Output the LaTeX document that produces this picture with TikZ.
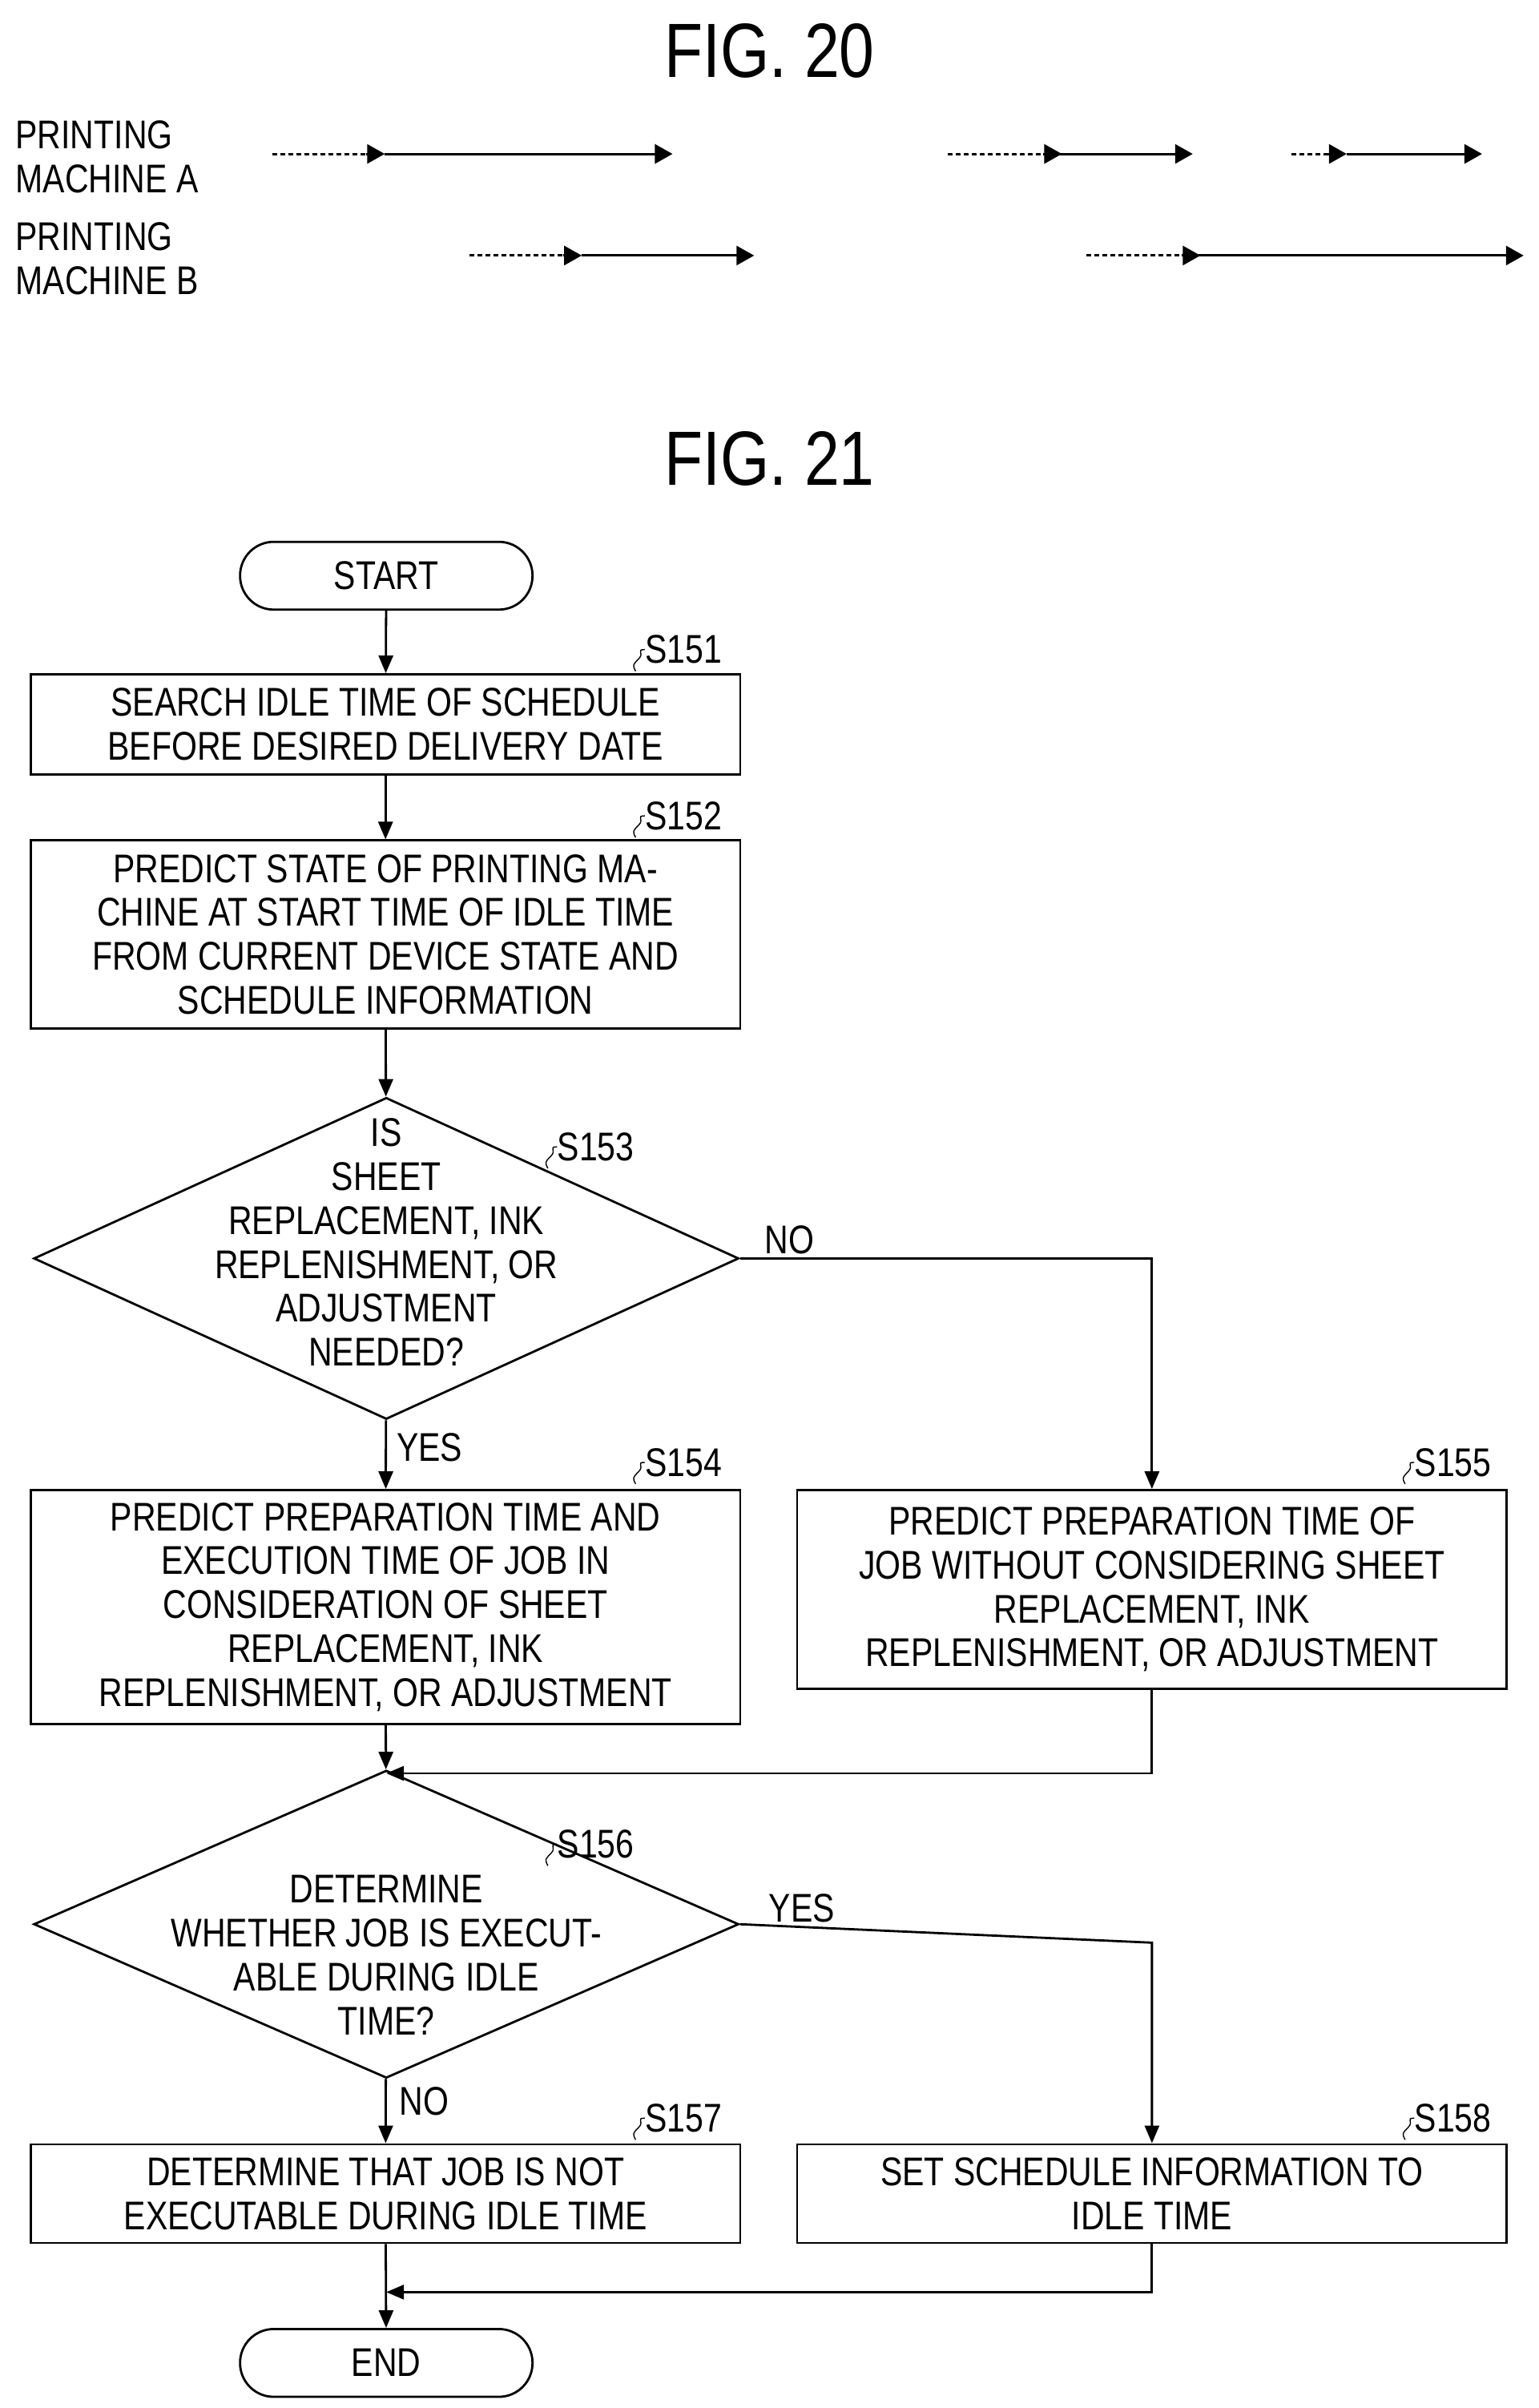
\documentclass[tikz,border=0pt]{standalone}
\usepackage{fontspec}
\setmainfont{Liberation Sans}[FakeStretch=0.82]
\usetikzlibrary{arrows.meta,shapes.geometric,calc}
\begin{document}
\begin{tikzpicture}[x=0.9605pt,y=-0.9605pt,
  every node/.style={font=\fontsize{25pt}{27.4pt}\selectfont},
  ln/.style={line width=1.4pt},
  arr/.style={ln,-{Triangle[length=11pt,width=9pt]}},
  box/.style={draw,ln,rectangle,align=center,inner sep=0pt,minimum width=442.8pt},
  term/.style={draw,ln,rounded corners=21pt,minimum width=182.5pt,minimum height=42.3pt,inner sep=0pt},
  dia/.style={draw,ln,diamond,inner sep=0pt,minimum width=440pt},
  lab/.style={anchor=west,inner sep=0pt},
  tl/.style={font=\fontsize{48pt}{52pt}\selectfont},
  sq/.style={line width=0.7pt},
  sol/.style={line width=1.4pt,-{Triangle[length=11pt,width=12pt]}},
  dsh/.style={line width=1.4pt,dash pattern=on 3pt off 2pt}]
\useasboundingbox (0,0) rectangle (1000,1564.3);
% FIG 20
\node[tl] (f20) at (500,33) {FIG. 20};
\node[align=left,anchor=west,inner sep=0pt] (ma) at (10,102) {PRINTING\\MACHINE A};
\node[align=left,anchor=west,inner sep=0pt] (mb) at (10,168) {PRINTING\\MACHINE B};
\coordinate (a1) at (177,100); \coordinate (a2) at (250,100); \coordinate (a3) at (437,100);
\coordinate (a4) at (616,100); \coordinate (a5) at (690,100); \coordinate (a6) at (775,100);
\coordinate (a7) at (839,100); \coordinate (a8) at (875,100); \coordinate (a9) at (963,100);
\coordinate (b1) at (305,166); \coordinate (b2) at (378,166); \coordinate (b3) at (490,166);
\coordinate (b4) at (706,166); \coordinate (b5) at (780,166); \coordinate (b6) at (990,166);
\foreach \p/\q/\r in {a1/a2/a3,a4/a5/a6,a7/a8/a9,b1/b2/b3,b4/b5/b6}{
  \draw[dsh] (\p) -- (\q);
  \draw[sol] ($(\q)+(-12,0)$) -- (\q);
  \draw[sol] (\q) -- (\r);
}
% FIG 21
\node[tl] (f21) at (500,298) {FIG. 21};
\node[term] (start) at (251,374) {START};
\node[box,minimum height=62.4pt] (s151) at (250.5,470.5) {SEARCH IDLE TIME OF SCHEDULE\\BEFORE DESIRED DELIVERY DATE};
\node[box,minimum height=117.2pt] (s152) at (250.5,607) {PREDICT STATE OF PRINTING MA-\\CHINE AT START TIME OF IDLE TIME\\FROM CURRENT DEVICE STATE AND\\SCHEDULE INFORMATION};
\node[dia,minimum height=200.7pt] (s153) at (251,817.5) {};
\node[align=center,inner sep=0pt] (t153) at (251,807) {IS\\SHEET\\REPLACEMENT, INK\\REPLENISHMENT, OR\\ADJUSTMENT\\NEEDED?};
\node[box,minimum height=146pt] (s154) at (250.5,1044) {PREDICT PREPARATION TIME AND\\EXECUTION TIME OF JOB IN\\CONSIDERATION OF SHEET\\REPLACEMENT, INK\\REPLENISHMENT, OR ADJUSTMENT};
\node[box,minimum height=123.9pt] (s155) at (748.5,1032.5) {PREDICT PREPARATION TIME OF\\JOB WITHOUT CONSIDERING SHEET\\REPLACEMENT, INK\\REPLENISHMENT, OR ADJUSTMENT};
\node[dia,minimum height=192pt] (s156) at (251,1250) {};
\node[align=center,inner sep=0pt] (t156) at (251,1270) {DETERMINE\\WHETHER JOB IS EXECUT-\\ABLE DURING IDLE\\TIME?};
\node[box,minimum height=61.5pt] (s157) at (250.5,1425) {DETERMINE THAT JOB IS NOT\\EXECUTABLE DURING IDLE TIME};
\node[box,minimum height=61.5pt] (s158) at (748.5,1425) {SET SCHEDULE INFORMATION TO\\IDLE TIME};
\node[term] (end) at (251,1535) {END};
% step labels
\foreach \n/\x/\y in {151/419/422,152/419/530,153/362/745,154/419/950,155/919/950,156/362/1198,157/419/1376,158/919/1376}{
  \node[lab] (l\n) at (\x,\y) {S\n};
  \draw[sq] (l\n.west) .. controls +(-6,0) and +(4,-4) .. +(-4,6) .. controls +(-4,4) and +(-2,-4) .. +(-6,14);
}
% connectors
\draw[arr] (start) -- (s151);
\draw[arr] (s151) -- (s152);
\draw[arr] (s152) -- (s153);
\draw[arr] (s153) -- (s154) node[pos=0.4,right=6pt,inner sep=0pt] (y1) {YES};
\coordinate (c1) at (748.5,817.5);
\draw[arr] (s153.east) -- (c1) node[pos=0.12,above=2pt,inner sep=0pt] (n1) {NO} -- (s155);
\coordinate (m1) at (748.5,1152); \coordinate (m1l) at (251,1152);
\draw[arr] (s155) -- (m1) -- (m1l);
\draw[arr] (s154) -- (s156);
\coordinate (c2) at (748.5,1262);
\draw[arr] (s156.east) -- (c2) node[pos=0.15,above=2pt,inner sep=0pt] (y2) {YES} -- (s158);
\draw[arr] (s156) -- (s157) node[pos=0.35,right=8pt,inner sep=0pt] (n2) {NO};
\coordinate (m2) at (748.5,1489); \coordinate (m2l) at (251,1489);
\draw[arr] (s158) -- (m2) -- (m2l);
\draw[arr] (s157) -- (end);
\end{tikzpicture}
\end{document}
